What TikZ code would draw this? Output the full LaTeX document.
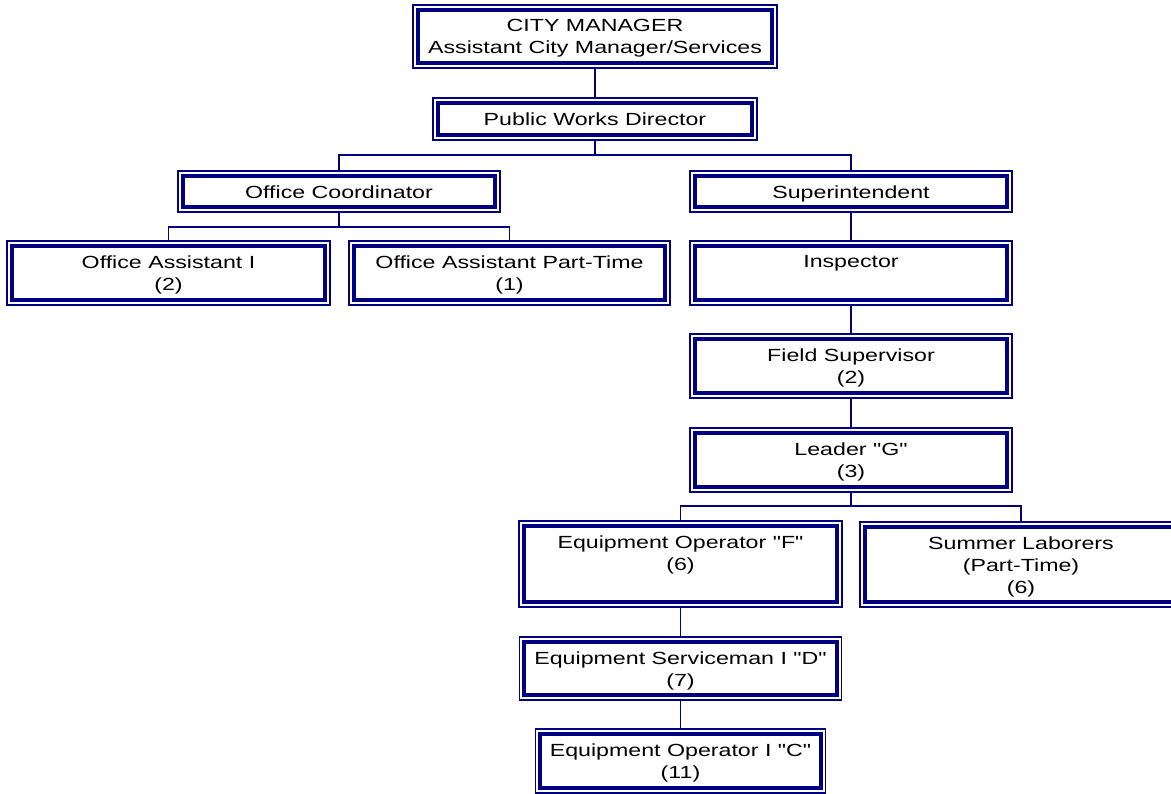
\documentclass[tikz,border=0pt]{standalone}
\usepackage{fontspec}
\newfontfamily\chartfont[FakeStretch=1.32]{Liberation Sans}
\usepackage{tikz}
\usetikzlibrary{calc}
\definecolor{navyline}{RGB}{0,0,128}

\begin{document}
\begin{tikzpicture}
  [
    x=0.02cm,
    y=-0.02cm,
    box/.style={
      draw=navyline,
      line width=0.85pt,
      inner sep=0pt,
      outer sep=0pt
    },
    dims/.style 2 args={
      minimum width=#1cm,
      minimum height=#2cm
    },
    txt/.style={
      anchor=north,
      align=center,
      inner sep=0pt,
      yshift=-0.28cm,
      font=\chartfont\fontsize{10}{12.5}\selectfont
    },
    inner/.style={
      draw=navyline,
      line width=2.27pt
    },
    link/.style={
      draw=navyline,
      line width=0.85pt
    }
  ]
    \clip (0,0) rectangle (1171,794);
    \node [box,dims={7.28}{1.26},label={[txt]north:{CITY MANAGER\\Assistant City Manager/Services}}] (cm) at (595,36.5) {};
    \node [box,dims={6.48}{0.84},label={[txt]north:{Public Works Director}}] (pwd) at (595,119) {};
    \node [box,dims={6.44}{0.82},label={[txt]north:{Office Coordinator}}] (oc) at (339,191.5) {};
    \node [box,dims={6.44}{0.82},label={[txt]north:{Superintendent}}] (sup) at (851,191.5) {};
    \node [box,dims={6.46}{1.28},label={[txt]north:{Office Assistant I\\(2)}}] (oa1) at (168.5,273) {};
    \node [box,dims={6.42}{1.28},label={[txt]north:{Office Assistant Part-Time\\(1)}}] (oapt) at (509.5,273) {};
    \node [box,dims={6.44}{1.28},label={[txt]north:{Inspector}}] (insp) at (851,273) {};
    \node [box,dims={6.44}{1.28},label={[txt]north:{Field Supervisor\\(2)}}] (fs) at (851,366) {};
    \node [box,dims={6.44}{1.28},label={[txt]north:{Leader "G"\\(3)}}] (ldr) at (851,460) {};
    \node [box,dims={6.46}{1.72},label={[txt]north:{Equipment Operator "F"\\(6)}}] (eof) at (680.5,564) {};
    \node [box,dims={6.44}{1.70},label={[txt]north:{Summer Laborers\\(Part-Time)\\(6)}}] (sum) at (1021,564.5) {};
    \node [box,dims={6.44}{1.26},label={[txt]north:{Equipment Serviceman I "D"\\(7)}}] (esd) at (680.5,668.5) {};
    \node [box,dims={5.80}{1.28},label={[txt]north:{Equipment Operator I "C"\\(11)}}] (eoc) at (680.5,761) {};
    % inner frames
    \foreach \n in {cm,pwd,oc,sup,oa1,oapt,insp,fs,ldr,eof,sum,esd,eoc}
      \draw [inner] ([shift={(0.096cm,-0.096cm)}]\n.north west) rectangle ([shift={(-0.096cm,0.096cm)}]\n.south east);
    % links
    \draw [link] (cm) -- (pwd);
    \draw [link] (pwd.south) -- ++(0,15) coordinate (b1);
    \draw [link] (oc.north) |- (b1) -| (sup.north);
    \draw [link] (oc.south) -- ++(0,15) coordinate (b2);
    \draw [link] (oa1.north) |- (b2) -| (oapt.north);
    \draw [link] (sup) -- (insp);
    \draw [link] (insp) -- (fs);
    \draw [link] (fs) -- (ldr);
    \draw [link] (ldr.south) -- ++(0,14) coordinate (b3);
    \draw [link] (eof.north) |- (b3) -| (sum.north);
    \draw [link] (eof) -- (esd);
    \draw [link] (esd) -- (eoc);
  \end{tikzpicture}
\end{document}
